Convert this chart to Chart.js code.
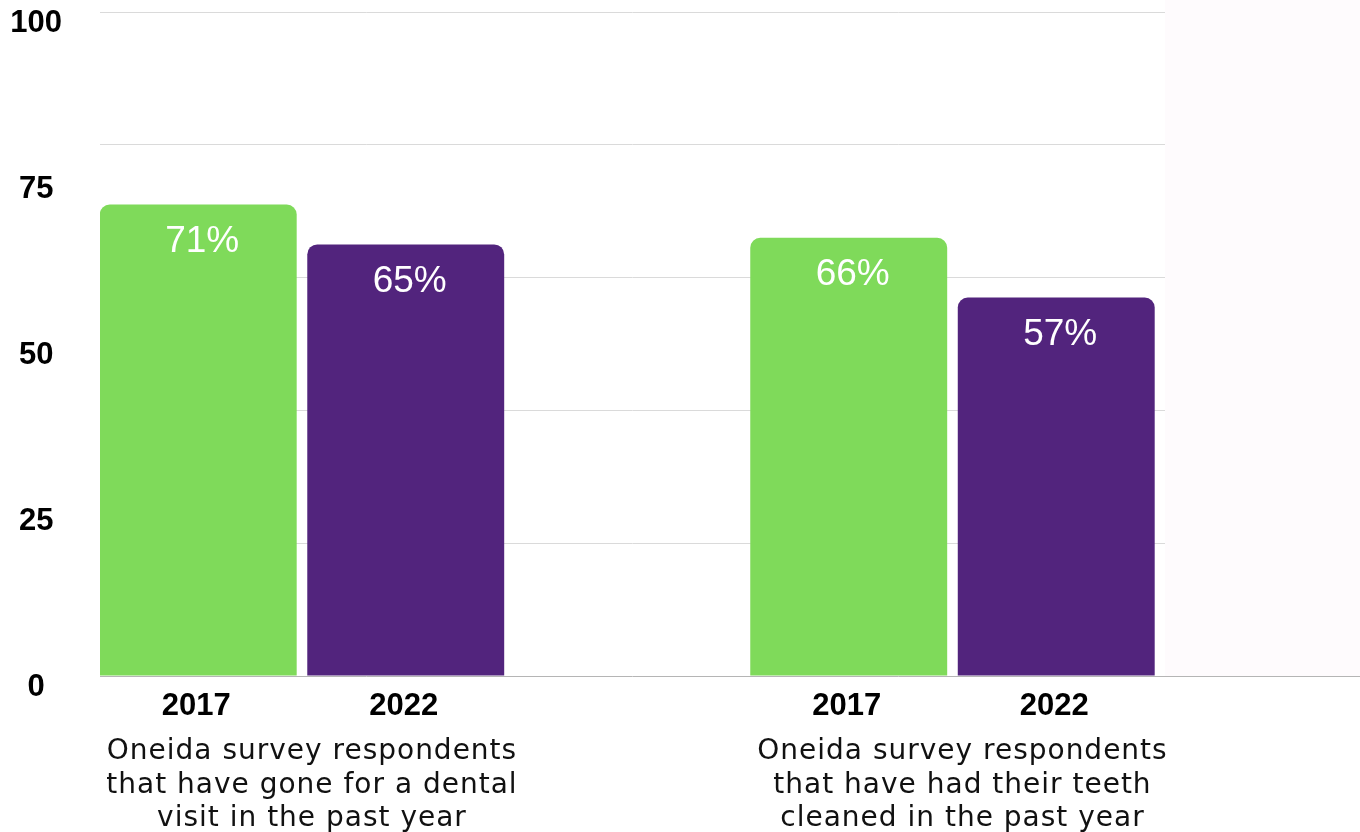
<!DOCTYPE html>
<html>
<head>
<meta charset="utf-8">
<script src="https://cdn.jsdelivr.net/npm/chart.js@4.4.1/dist/chart.umd.min.js"></script>
<style>
  html, body { margin: 0; padding: 0; background: #fff; }
  #wrap { width: 1360px; height: 832px; }
</style>
</head>
<body>
<div id="wrap"><canvas id="dentalChart" width="1360" height="832"></canvas></div>
<script>
// data
const years = ['2017', '2022'];
const groupLabels = [
    ['Oneida survey respondents', 'that have gone for a dental', 'visit in the past year'],
    ['Oneida survey respondents', 'that have had their teeth', 'cleaned in the past year']
];
const values2017 = [71, 66];
const values2022 = [65, 57];
const yTickLabels = [0, 25, 50, 75, 100];

const groupIdx = groupLabels.map((_, i) => i);
const toPoints = vals => vals.map((v, i) => ({ x: groupIdx[i], y: v }));

const LABEL_FONT = '"Liberation Sans", Arial, sans-serif';

const barText = {
    id: 'barText',
    beforeDraw(chart) {
        const { ctx, chartArea } = chart;
        const base = chart.scales.y.getPixelForValue(0);
        ctx.save();
        ctx.fillStyle = '#fefbfd';
        ctx.fillRect(chartArea.right, 0, chart.width - chartArea.right, base);
        ctx.restore();
    },
    afterDraw(chart) {
        const { ctx, chartArea } = chart;
        const xScale = chart.scales.x;
        const base = Math.round(chart.scales.y.getPixelForValue(0)) + 0.5;
        ctx.save();
        // baseline runs on to the edge
        ctx.strokeStyle = '#b5b5b5';
        ctx.lineWidth = 1;
        ctx.beginPath();
        ctx.moveTo(chartArea.right, base);
        ctx.lineTo(chart.width, base);
        ctx.stroke();

        ctx.textAlign = 'center';
        ctx.textBaseline = 'middle';
        chart.data.datasets.forEach((ds, di) => {
            chart.getDatasetMeta(di).data.forEach((bar, i) => {
                ctx.fillStyle = '#ffffff';
                ctx.font = '37px ' + LABEL_FONT;
                ctx.fillText(ds.data[i].y + '%', bar.x + 4, bar.y + 37);
                ctx.fillStyle = '#000000';
                ctx.font = 'bold 31px ' + LABEL_FONT;
                ctx.fillText(ds.label, bar.x - 2, chartArea.bottom + 30);
            });
        });

        ctx.fillStyle = '#111111';
        ctx.font = '28px "DejaVu Sans", sans-serif';
        ctx.letterSpacing = '1px';
        groupLabels.forEach((lines, i) => {
            const cx = xScale.getPixelForValue(groupIdx[i]) + 10;
            lines.forEach((line, li) => {
                ctx.fillText(line, cx, chartArea.bottom + 76 + li * 33.5);
            });
        });
        ctx.restore();
    }
};

new Chart(document.getElementById('dentalChart'), {
    type: 'bar',
    data: {
        datasets: [
            {
                label: years[0],
                data: toPoints(values2017),
                backgroundColor: '#7fda5a',
                borderRadius: 10
            },
            {
                label: years[1],
                data: toPoints(values2022),
                backgroundColor: '#52247d',
                borderRadius: 10
            }
        ]
    },
    options: {
        responsive: false,
        animation: false,
        devicePixelRatio: 1,
        categoryPercentage: 0.638,
        barPercentage: 0.949,
        layout: { padding: { left: 0, right: 195, top: 12, bottom: 156 } },
        plugins: {
            legend: { display: false },
            tooltip: { enabled: false }
        },
        scales: {
            x: {
                type: 'linear',
                display: false,
                offset: false,
                min: -0.3105,
                max: 1.3267,
                afterBuildTicks: s => { s.ticks = groupIdx.map(v => ({ value: v })); }
            },
            y: {
                min: 0,
                max: 100,
                ticks: { stepSize: 20, display: false },
                border: { display: false },
                grid: {
                    drawTicks: false,
                    color: c => (c.tick && c.tick.value === 0 ? '#b5b5b5' : '#dadada')
                },
                afterFit: s => { s.width = 0; s.paddingTop = 0; s.paddingBottom = 0; }
            },
            yLabels: {
                position: 'left',
                min: 0,
                max: 100,
                grid: { display: false, drawTicks: false },
                border: { display: false },
                afterBuildTicks: s => { s.ticks = yTickLabels.map(v => ({ value: v })); },
                ticks: {
                    color: '#000',
                    font: { family: LABEL_FONT, size: 31, weight: 'bold' },
                    crossAlign: 'center',
                    padding: 38,
                    labelOffset: 11
                },
                afterFit: s => { s.width = 100; s.paddingTop = 0; s.paddingBottom = 0; }
            }
        }
    },
    plugins: [barText]
});
</script>
</body>
</html>
